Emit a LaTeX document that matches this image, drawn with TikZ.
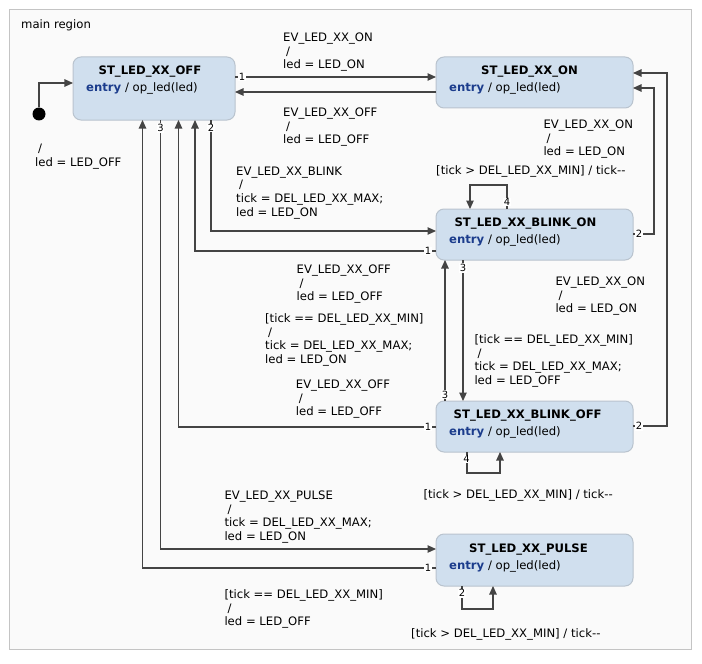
\documentclass[tikz,border=0pt]{standalone}
\usepackage{fontspec}
\setmainfont{DejaVu Sans}
\usetikzlibrary{arrows.meta}
\definecolor{regionfill}{HTML}{FAFAFA}
\definecolor{regionborder}{HTML}{C4C4C4}
\definecolor{statefill}{HTML}{D0DFEE}
\definecolor{stateborder}{HTML}{B9C3CE}
\definecolor{entryblue}{HTML}{1B3C8C}
\definecolor{linec}{HTML}{444444}
\newcommand{\tdec}{tick-\kern0pt-}
\begin{document}
\begin{tikzpicture}[x=1bp,y=-1bp,
  state/.style={draw=stateborder, fill=statefill, rounded corners=8bp, line width=1bp, minimum width=197bp, inner sep=0, outer sep=0},
  ttl/.style={font=\fontsize{11.7}{13.7}\selectfont\bfseries, anchor=base, inner sep=0},
  ent/.style={font=\fontsize{11.7}{13.7}\selectfont, anchor=base west, inner sep=0},
  lbl/.style={font=\fontsize{11.7}{13.7}\selectfont, anchor=north west, inner sep=0, align=left},
  num/.style={font=\fontsize{10}{11}\selectfont, fill=white, inner sep=0.8bp},
  conn/.style={draw=linec, line width=1.05bp, -{Triangle[length=8.5bp,width=7.5bp]}}
]
\useasboundingbox (0,0) rectangle (702,664);
\fill[white] (0,0) rectangle (702,664);
\node[draw=regionborder, fill=regionfill, line width=1bp, minimum width=681bp, minimum height=639bp, inner sep=0] (region) at (350.5,329.5) {};
\node[lbl] (regionT) at (21,19.6) {main region};

% states
\node[state, minimum width=162bp, minimum height=63bp] (off) at (154,88.5) {};
\node[state, minimum height=51bp] (on) at (534.5,82.5) {};
\node[state, minimum height=51bp] (bon) at (534.5,234.5) {};
\node[state, minimum height=51bp] (boff) at (534.5,426.5) {};
\node[state, minimum height=52bp] (pulse) at (534.5,560) {};

\node[ttl] (offT) at (150,74.3) {ST\_LED\_XX\_OFF};
\node[ent] (offE) at (86,91.3) {\textcolor{entryblue}{\bfseries entry} / op\_led(led)};
\node[ttl] (onT) at (529.5,74.3) {ST\_LED\_XX\_ON};
\node[ent] (onE) at (449,91.3) {\textcolor{entryblue}{\bfseries entry} / op\_led(led)};
\node[ttl] (bonT) at (525.5,226.3) {ST\_LED\_XX\_BLINK\_ON};
\node[ent] (bonE) at (449,243.3) {\textcolor{entryblue}{\bfseries entry} / op\_led(led)};
\node[ttl] (boffT) at (527.7,418.3) {ST\_LED\_XX\_BLINK\_OFF};
\node[ent] (boffE) at (449,435.3) {\textcolor{entryblue}{\bfseries entry} / op\_led(led)};
\node[ttl] (pulseT) at (528.5,552.3) {ST\_LED\_XX\_PULSE};
\node[ent] (pulseE) at (449,569.3) {\textcolor{entryblue}{\bfseries entry} / op\_led(led)};

% initial
\node[circle, fill=black, minimum size=13bp, inner sep=0] (init) at (39,114) {};
\draw[conn] (init) |- (off.west |- 0,83);

% connectors
\draw[conn] (off.east |- 0,77) -- (on.west |- 0,77);
\draw[conn] (on.west |- 0,92) -- (off.east |- 0,92);
\draw[conn] (off.south -| 211,0) |- (bon.west |- 0,231);
\draw[conn] (bon.west |- 0,251) -| (off.south -| 195,0);
\draw[conn] (boff.west |- 0,427) -| (off.south -| 178.5,0);
\draw[conn] (off.south -| 160.5,0) |- (pulse.west |- 0,549);
\draw[conn] (pulse.west |- 0,568) -| (off.south -| 142.5,0);
\draw[conn] (pulse.south -| 462,0) -- (462,609) -| (pulse.south -| 493,0);
\draw[conn] (bon.north -| 507,0) -- (507,185) -| (bon.north -| 470,0);
\draw[conn] (bon.east |- 0,234) -| (654,88) -- (on.east |- 0,88);
\draw[conn] (boff.east |- 0,426) -| (667,73) -- (on.east |- 0,73);
\draw[conn] (bon.south -| 463,0) -- (boff.north -| 463,0);
\draw[conn] (boff.north -| 445,0) -- (bon.south -| 445,0);
\draw[conn] (boff.south -| 467,0) -- (467,473) -| (boff.south -| 500,0);

% numbers
\node[num] (n1) at (242,77) {1};
\node[num] (n2) at (211,128) {2};
\node[num] (n3) at (160.5,128) {3};
\node[num] (n4) at (507,202) {4};
\node[num] (n5) at (639,234) {2};
\node[num] (n6) at (428,251) {1};
\node[num] (n7) at (463,268) {3};
\node[num] (n8) at (445,394.5) {3};
\node[num] (n9) at (428,427) {1};
\node[num] (n10) at (639,426) {2};
\node[num] (n11) at (466.5,459) {4};
\node[num] (n12) at (428,568) {1};
\node[num] (n13) at (462,593) {2};

% labels
\node[lbl] (lA) at (283,32.6) {EV\_LED\_XX\_ON\\\hspace*{3bp}/\\led = LED\_ON};
\node[lbl] (lB) at (283,107.6) {EV\_LED\_XX\_OFF\\\hspace*{3bp}/\\led = LED\_OFF};
\node[lbl] (lInit) at (35,144) {\hspace*{3bp}/\\led = LED\_OFF};
\node[lbl] (lC) at (236,166.6) {EV\_LED\_XX\_BLINK\\\hspace*{3bp}/\\tick = DEL\_LED\_XX\_MAX;\\led = LED\_ON};
\node[lbl] (lD) at (296.5,264.6) {EV\_LED\_XX\_OFF\\\hspace*{3bp}/\\led = LED\_OFF};
\node[lbl] (lE) at (265,313.3) {[tick == DEL\_LED\_XX\_MIN]\\\hspace*{3bp}/\\tick = DEL\_LED\_XX\_MAX;\\led = LED\_ON};
\node[lbl] (lF) at (295.7,379.6) {EV\_LED\_XX\_OFF\\\hspace*{3bp}/\\led = LED\_OFF};
\node[lbl] (lG) at (474.3,334.6) {[tick == DEL\_LED\_XX\_MIN]\\\hspace*{3bp}/\\tick = DEL\_LED\_XX\_MAX;\\led = LED\_OFF};
\node[lbl] (lH) at (543.3,119.6) {EV\_LED\_XX\_ON\\\hspace*{3bp}/\\led = LED\_ON};
\node[lbl] (lI) at (555.3,276.6) {EV\_LED\_XX\_ON\\\hspace*{3bp}/\\led = LED\_ON};
\node[lbl] (lJ) at (436,165.6) {[tick > DEL\_LED\_XX\_MIN] / \tdec};
\node[lbl] (lK) at (423.3,489.6) {[tick > DEL\_LED\_XX\_MIN] / \tdec};
\node[lbl] (lL) at (224.3,490.6) {EV\_LED\_XX\_PULSE\\\hspace*{3bp}/\\tick = DEL\_LED\_XX\_MAX;\\led = LED\_ON};
\node[lbl] (lM) at (224.3,589.6) {[tick == DEL\_LED\_XX\_MIN]\\\hspace*{3bp}/\\led = LED\_OFF};
\node[lbl] (lN) at (411,628.3) {[tick > DEL\_LED\_XX\_MIN] / \tdec};
\end{tikzpicture}
\end{document}
